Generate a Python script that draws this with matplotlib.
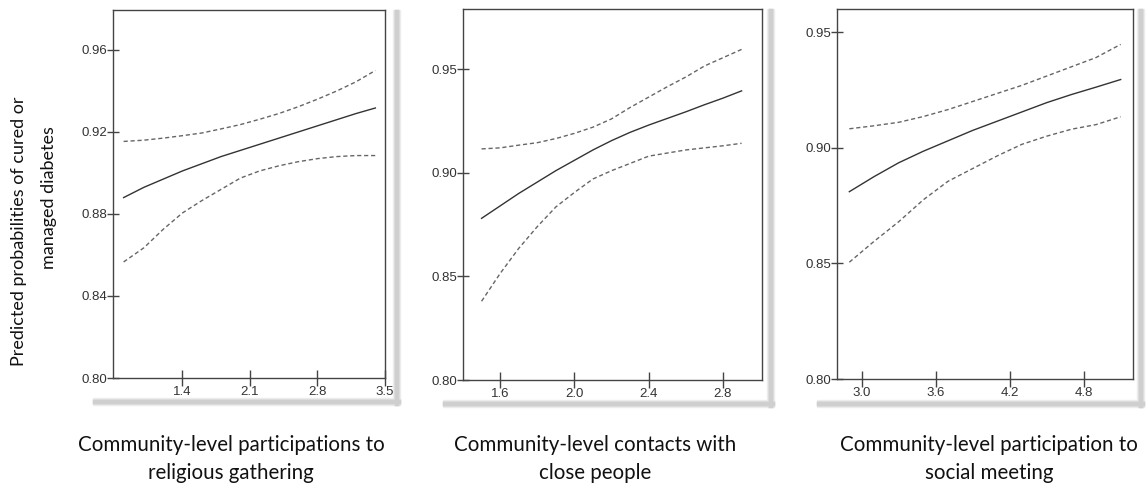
import matplotlib
matplotlib.use("Agg")
import matplotlib.pyplot as plt
from matplotlib.patches import Rectangle

# panel 1: religious gathering
x1 = [0.79, 1.0, 1.2, 1.4, 1.6, 1.8, 2.0, 2.2, 2.4, 2.6, 2.8, 3.0, 3.2, 3.4]
p1 = [0.888, 0.893, 0.897, 0.901, 0.9045, 0.908, 0.911, 0.914, 0.917, 0.920, 0.923, 0.926, 0.929, 0.9317]
hi1 = [0.9154, 0.9160, 0.9170, 0.9182, 0.9195, 0.9215, 0.9236, 0.9262, 0.929, 0.9323, 0.936, 0.940, 0.9445, 0.950]
lo1 = [0.8566, 0.8635, 0.8725, 0.8805, 0.8865, 0.8920, 0.8975, 0.901, 0.9035, 0.9055, 0.907, 0.908, 0.9085, 0.9085]

# panel 2: contacts with close people
x2 = [1.5, 1.6, 1.7, 1.8, 1.9, 2.0, 2.1, 2.2, 2.3, 2.4, 2.5, 2.6, 2.7, 2.8, 2.9]
p2 = [0.878, 0.884, 0.890, 0.8955, 0.901, 0.906, 0.911, 0.9155, 0.9195, 0.923, 0.9262, 0.9294, 0.9328, 0.936, 0.9395]
hi2 = [0.9115, 0.912, 0.9133, 0.9145, 0.9165, 0.919, 0.922, 0.926, 0.9315, 0.9365, 0.9415, 0.9462, 0.9515, 0.9555, 0.9595]
lo2 = [0.838, 0.8514, 0.8635, 0.874, 0.8835, 0.8905, 0.897, 0.901, 0.9045, 0.908, 0.9095, 0.911, 0.912, 0.913, 0.9142]

# panel 3: social meeting
x3 = [2.9, 3.1, 3.3, 3.5, 3.7, 3.9, 4.1, 4.3, 4.5, 4.7, 4.9, 5.1]
p3 = [0.881, 0.8875, 0.8935, 0.8985, 0.903, 0.9075, 0.9115, 0.9155, 0.9195, 0.923, 0.9262, 0.9295]
hi3 = [0.9082, 0.9095, 0.911, 0.9135, 0.9165, 0.920, 0.9235, 0.927, 0.931, 0.935, 0.939, 0.9447]
lo3 = [0.8505, 0.8595, 0.868, 0.8775, 0.8855, 0.891, 0.8965, 0.9015, 0.905, 0.908, 0.910, 0.9134]

xticks = [[1.4, 2.1, 2.8, 3.5], [1.6, 2.0, 2.4, 2.8], [3.0, 3.6, 4.2, 4.8]]
yticks = [[0.80, 0.84, 0.88, 0.92, 0.96], [0.80, 0.85, 0.90, 0.95], [0.80, 0.85, 0.90, 0.95]]
xlims = [(0.68, 3.5), (1.40, 3.01), (2.80, 5.20)]
ylims = [(0.80, 0.9795), (0.80, 0.979), (0.80, 0.960)]
xlabels = ["Community-level participations to\nreligious gathering",
           "Community-level contacts with\nclose people",
           "Community-level participation to\nsocial meeting"]
ylabel1 = "Predicted probabilities of cured or"
ylabel2 = "managed diabetes"

W, H = 1147, 490
fig = plt.figure(figsize=(W / 100, H / 100), dpi=100)
fig.patch.set_facecolor("white")

# pixel boxes (left, top, right, bottom) of each plot frame
boxes = [(113, 10, 385, 378), (463, 9, 762, 380), (837, 9, 1133, 379)]
# drop-shadow extents (card left, right edge, bottom edge)
shadows = [(83, 393, 398), (433, 767, 400), (807, 1137, 400)]
label_x = [231, 595, 989]

series = [(x1, p1, hi1, lo1), (x2, p2, hi2, lo2), (x3, p3, hi3, lo3)]

for i, (l, t, r, b) in enumerate(boxes):
    # soft shadow behind the card
    sl, sr, sb = shadows[i]
    for w, c in [(7, "#efefef"), (5, "#e0e0e0"), (3, "#cfcfcf")]:
        off = (7 - w) / 2
        fig.patches.append(Rectangle(((sr + off) / W, 1 - (sb + 7) / H), w / W, (sb + 7 - t) / H,
                                     transform=fig.transFigure, color=c, zorder=0))
        fig.patches.append(Rectangle(((sl + 10) / W, 1 - (sb + off + w) / H), (sr - sl - 3) / W, w / H,
                                     transform=fig.transFigure, color=c, zorder=0))

    ax = fig.add_axes([l / W, 1 - b / H, (r - l) / W, (b - t) / H])
    ax.set_zorder(2)
    xs, pm, hi, lo = series[i]
    ax.plot(xs, pm, color="#333333", lw=1.0)
    ax.plot(xs, hi, color="#666666", lw=1.0, dashes=(3, 2))
    ax.plot(xs, lo, color="#666666", lw=1.0, dashes=(3, 2))
    ax.set_xlim(*xlims[i])
    ax.set_ylim(*ylims[i])
    ax.set_xticks(xticks[i])
    ax.set_yticks(yticks[i])
    ax.set_xticklabels(["%.1f" % v for v in xticks[i]])
    ax.set_yticklabels(["%.2f" % v for v in yticks[i]])
    for s in ax.spines.values():
        s.set_color("#444444")
        s.set_linewidth(1.0)
    ax.tick_params(axis="x", direction="inout", length=12, width=1, color="#444444",
                   labelsize=9.5, labelcolor="#333333", pad=0)
    ax.tick_params(axis="y", direction="inout", length=8, width=1, color="#444444",
                   labelsize=9.5, labelcolor="#333333", pad=0)
    for lab in ax.get_xticklabels() + ax.get_yticklabels():
        lab.set_family("Liberation Sans")

    fig.text(label_x[i] / W, 1 - 459 / H, xlabels[i], ha="center", va="center",
             fontsize=14.8, family="Lato", color="#111111", linespacing=1.45)

fig.text(19 / W, 1 - 231 / H, ylabel1, rotation=90, ha="center", va="center",
         fontsize=13, family="Lato", color="#111111")
fig.text(49 / W, 1 - 198 / H, ylabel2, rotation=90, ha="center", va="center",
         fontsize=13, family="Lato", color="#111111")

fig.savefig("out.png", dpi=100, facecolor="white")
